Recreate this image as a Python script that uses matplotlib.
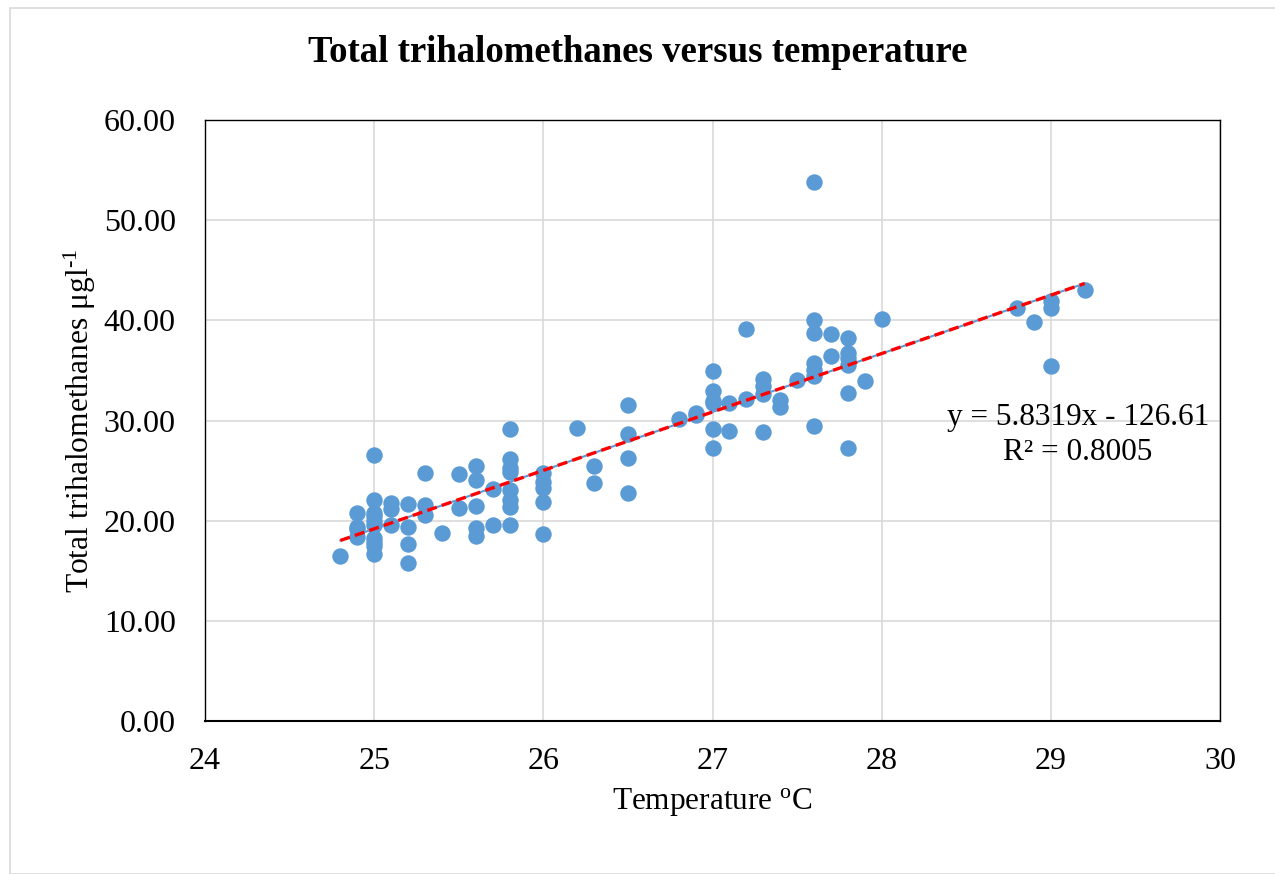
import matplotlib
matplotlib.use("Agg")
import matplotlib.pyplot as plt
from matplotlib.patches import Rectangle
from matplotlib.ticker import FormatStrFormatter

plt.rcParams['font.family'] = ['Liberation Serif', 'DejaVu Serif']
plt.rcParams['mathtext.fontset'] = 'custom'
plt.rcParams['mathtext.rm'] = 'Liberation Serif'
plt.rcParams['mathtext.it'] = 'Liberation Serif:italic'

temperature = [24.8,
               24.9, 24.9, 24.9, 24.9,
               25.0, 25.0, 25.0, 25.0, 25.0, 25.0, 25.0, 25.0, 25.0, 25.0,
               25.1, 25.1, 25.1,
               25.2, 25.2, 25.2, 25.2,
               25.3, 25.3, 25.3,
               25.4,
               25.5, 25.5,
               25.6, 25.6, 25.6, 25.6, 25.6,
               25.7, 25.7,
               25.8, 25.8, 25.8, 25.8, 25.8, 25.8, 25.8, 25.8,
               26.0, 26.0, 26.0, 26.0, 26.0,
               26.2,
               26.3, 26.3,
               26.5, 26.5, 26.5, 26.5,
               26.8,
               26.9, 26.9,
               27.0, 27.0, 27.0, 27.0, 27.0, 27.0,
               27.1, 27.1,
               27.2, 27.2,
               27.3, 27.3, 27.3, 27.3,
               27.4, 27.4,
               27.5,
               27.6, 27.6, 27.6, 27.6, 27.6, 27.6, 27.6,
               27.7, 27.7,
               27.8, 27.8, 27.8, 27.8, 27.8, 27.8,
               27.9,
               28.0,
               28.8,
               28.9,
               29.0, 29.0, 29.0,
               29.2]
thm = [16.5,
       20.8, 19.4, 19.2, 18.4,
       26.6, 22.1, 20.8, 20.5, 20.0, 19.6, 18.3, 17.9, 17.5, 16.7,
       21.8, 21.2, 19.6,
       21.7, 19.4, 17.7, 15.8,
       24.8, 21.6, 20.6,
       18.8,
       24.7, 21.3,
       25.5, 24.1, 21.5, 19.3, 18.5,
       23.2, 19.6,
       29.2, 26.2, 25.3, 24.9, 23.1, 22.1, 21.4, 19.6,
       24.8, 23.9, 23.3, 21.9, 18.7,
       29.3,
       25.5, 23.8,
       31.5, 28.7, 26.3, 22.8,
       30.1,
       30.7, 30.5,
       34.9, 32.9, 31.9, 31.7, 29.2, 27.3,
       31.7, 29.0,
       39.1, 32.1,
       34.1, 33.4, 32.6, 28.9,
       32.0, 31.3,
       34.0,
       53.8, 40.0, 38.7, 35.7, 35.0, 34.4, 29.5,
       38.6, 36.4,
       38.2, 36.7, 36.2, 35.5, 32.7, 27.3,
       33.9,
       40.1,
       41.2,
       39.8,
       41.9, 41.2, 35.4,
       43.0]

slope = 5.8319
intercept = -126.61
r_squared = 0.8005

x_ticks = [24, 25, 26, 27, 28, 29, 30]
y_ticks = [0, 10, 20, 30, 40, 50, 60]

W, H = 1275, 874
fig = plt.figure(figsize=(W/100, H/100), dpi=100)
ax = fig.add_axes([205/W, 1-721/H, (1220-205)/W, (721-120)/H])

# outer chart border
fig.patches.append(Rectangle((10/W, 0.0), 1.0, 1-8/H, transform=fig.transFigure,
                             fill=False, edgecolor='#D9D9D9', linewidth=1.2))

ax.scatter(temperature, thm, s=140, color='#5B9BD5', zorder=3, linewidths=0)

xmin, xmax = min(temperature), max(temperature)
xs = [xmin, xmax]
ys = [slope * v + intercept for v in xs]
ax.plot(xs, ys, color='#5B9BD5', linewidth=1.5, zorder=4)
ax.plot(xs, ys, color='#FF0000', linewidth=2.4, linestyle=(0, (3, 1.6)), zorder=5)

fig.text(1078/W, 1-418/H, f"y = {slope}x - {abs(intercept)}", ha='center', va='center', fontsize=22.5)
fig.text(1078/W, 1-452/H, f"R² = {r_squared}", ha='center', va='center', fontsize=22.5)

ax.set_xlim(24, 30)
ax.set_ylim(0, 60)
ax.set_xticks(x_ticks)
ax.set_yticks(y_ticks)
ax.yaxis.set_major_formatter(FormatStrFormatter('%.2f'))
ax.grid(True, color='#D9D9D9', linewidth=1.2, zorder=0)
ax.set_axisbelow(True)
ax.tick_params(length=0, labelsize=23)
ax.tick_params(axis='y', pad=21)
ax.tick_params(axis='x', pad=19)
for sp in ax.spines.values():
    sp.set_color('black')
    sp.set_linewidth(1.0)
ax.spines['bottom'].set_linewidth(1.5)

fig.text(0.5, 1-53/H, 'Total trihalomethanes versus temperature', fontsize=26.5,
         fontweight='bold', ha='center', va='center')
fig.text(712/W, 1-802/H, r'Temperature $^{\mathrm{o}}$C', fontsize=22.5, ha='center', va='center')
fig.text(80/W, 1-421/H, r'Total trihalomethanes μgl$^{\mathrm{‐1}}$', fontsize=22.7,
         rotation=90, ha='center', va='center')

fig.savefig('out.png', dpi=100)
